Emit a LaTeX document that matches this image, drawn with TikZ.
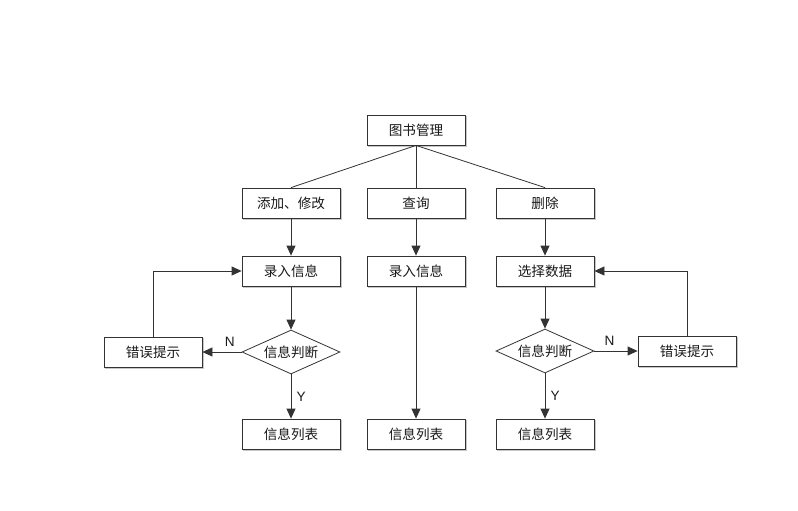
\documentclass[tikz,border=0pt]{standalone}
\usepackage{fontspec}
\newfontfamily\cjk{Noto Sans CJK SC}
\setmainfont{Liberation Sans}
\usetikzlibrary{arrows.meta,shapes.geometric}
\definecolor{ln}{HTML}{333333}
\tikzset{
  box/.style={draw=ln, line width=0.8pt, fill=white, minimum width=98pt, minimum height=30pt, inner sep=0pt, font=\cjk\fontsize{13.6}{15}\selectfont, text=black!90,
    preaction={draw=black!22, line width=1.2pt, transform canvas={shift={(1.2pt,-1.2pt)}}}},
  dia/.style={draw=ln, line width=0.8pt, fill=white, diamond, aspect=2.2, minimum width=98pt, minimum height=44pt, inner sep=0pt, font=\cjk\fontsize{13.6}{15}\selectfont, text=black!90},
  ar/.style={draw=ln, line width=0.8pt, -{Triangle[length=10pt,width=9pt]}},
  ln/.style={draw=ln, line width=0.8pt},
  lab/.style={font=\fontsize{13.6}{15}\selectfont, text=black!90}
}
\begin{document}
\begin{tikzpicture}[x=1pt,y=-1pt]
\useasboundingbox (0,0) rectangle (798,511);
\node[box] (root) at (416,130) {图书管理};
\node[box] (add) at (291,203) {添加、修改};
\node[box] (query) at (416,203) {查询};
\node[box] (del) at (545,203) {删除};
\node[box] (in1) at (291,271) {录入信息};
\node[box] (in2) at (416,271) {录入信息};
\node[box] (sel) at (545,271) {选择数据};
\node[dia] (j1) at (291,352) {信息判断};
\node[dia] (j2) at (545,351) {信息判断};
\node[box] (e1) at (153,352) {错误提示};
\node[box] (e2) at (687,351) {错误提示};
\node[box] (l1) at (291,434) {信息列表};
\node[box] (l2) at (416,434) {信息列表};
\node[box] (l3) at (545,434) {信息列表};

\draw[ln] (root.south) -- (add.north);
\draw[ln] (root.south) -- (query.north);
\draw[ln] (root.south) -- (del.north);

\draw[ar] (add) -- (in1);
\draw[ar] (query) -- (in2);
\draw[ar] (del) -- (sel);

\draw[ar] (in1) -- (j1);
\draw[ar] (j1) -- node[lab, right=2pt, pos=0.5] {Y} (l1);
\draw[ar] (j1) -- node[lab, above=2pt, pos=0.3] {N} (e1);
\draw[ar] (e1.north) |- (in1.west);

\draw[ar] (in2) -- (l2);

\draw[ar] (sel) -- (j2);
\draw[ar] (j2) -- node[lab, right=2pt, pos=0.5] {Y} (l3);
\draw[ar] (j2) -- node[lab, above=2pt, pos=0.35] {N} (e2);
\draw[ar] (e2.north) |- (sel.east);
\end{tikzpicture}
\end{document}
